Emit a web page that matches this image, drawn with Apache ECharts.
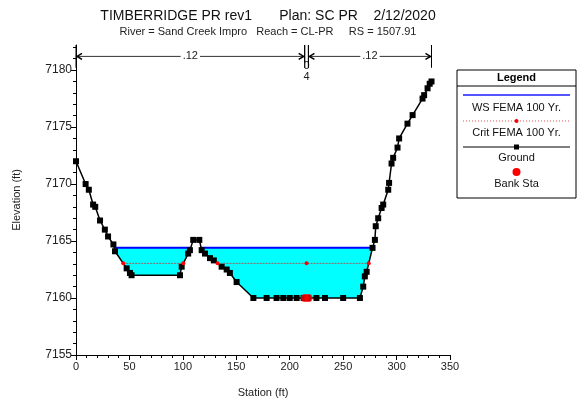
<!DOCTYPE html>
<html>
<head>
<meta charset="utf-8">
<script src="https://cdn.jsdelivr.net/npm/echarts@6/dist/echarts.min.js"></script>
<style>
html, body { margin: 0; padding: 0; background: #fff; }
#chart { width: 581px; height: 404px; }
</style>
</head>
<body>
<div id="chart"></div>
<script>
// ground profile
var station = [0, 9, 12, 16, 18, 22.5, 27, 30, 35, 36.5, 47.4, 50.5, 52, 97.3, 98.9, 105, 106.6, 109.7, 115.4, 117.6,
  120.7, 125.4, 129, 136.3, 141, 144, 150.3, 166, 178.4, 187.7, 194, 200, 206.5, 213, 217, 225, 233, 250, 265.7,
  268.8, 270.3, 272, 277.5, 279.7, 280.5, 282.8, 286, 287.5, 292.2, 293, 295.3, 296.8, 300.9, 302.4, 310.2, 315,
  324.3, 325.8, 329, 331, 332.7];
var elevation = [7172, 7170, 7169.5, 7168.2, 7168, 7166.8, 7166, 7165.4, 7164.7, 7164.1, 7162.6, 7162.2, 7162, 7162, 7162.75, 7163.9, 7164.2, 7165.1, 7165.1, 7164.2,
  7163.9, 7163.5, 7163.3, 7162.75, 7162.5, 7162.2, 7161.4, 7160, 7160, 7160, 7160, 7160, 7160, 7160, 7160, 7160, 7160, 7160, 7160,
  7161, 7161.9, 7162.3, 7164.4, 7165.1, 7166.3, 7167.0, 7167.9, 7168.2, 7169.5, 7170.1, 7171.8, 7172.3, 7173.2, 7174.0, 7175.3, 7176.05,
  7177.5, 7177.8, 7178.4, 7178.8, 7179.0];
var wsElev = 7164.4;       // WS FEMA 100 Yr.
var critElev = 7163.04;    // Crit FEMA 100 Yr.
var bankSta = [214, 217.5];
var nValues = ['.12', '.04', '.12'];
var xTicks = [0, 50, 100, 150, 200, 250, 300, 350];
var yTicks = [7155, 7160, 7165, 7170, 7175, 7180];

var ground = station.map(function(s, i) { return [s, elevation[i]]; });

// split the ground under a water level into wetted pieces
function wetPieces(level) {
  var pieces = [], cur = null;
  for (var i = 0; i < ground.length - 1; i++) {
    var a = ground[i], b = ground[i + 1];
    var wa = a[1] < level, wb = b[1] < level;
    if (wa && cur) cur.push(a);
    if (wa != wb) {
      var t = (level - a[1]) / (b[1] - a[1]);
      var p = [a[0] + t * (b[0] - a[0]), level];
      if (!wa) { cur = [p]; }
      else { cur.push(p); pieces.push(cur); cur = null; }
    }
  }
  return pieces;
}

var wsPieces = wetPieces(wsElev);
var critPieces = wetPieces(critElev);

var critData = [];
critPieces.forEach(function(pc, k) {
  if (k > 0) critData.push([pc[0][0], '-']);
  critData.push([pc[0][0], critElev]);
  var mid = (bankSta[0] + bankSta[1]) / 2;
  if (mid > pc[0][0] && mid < pc[pc.length - 1][0]) critData.push([mid, critElev]);
  critData.push([pc[pc.length - 1][0], critElev]);
});

var nEdges = [ground[0][0], bankSta[0], bankSta[1], ground[ground.length - 1][0]];

var chart = echarts.init(document.getElementById('chart'));

var option = {
  animation: false,
  backgroundColor: '#fff',
  title: {
    text: 'TIMBERRIDGE PR rev1       Plan: SC PR    2/12/2020',
    subtext: 'River = Sand Creek Impro   Reach = CL-PR     RS = 1507.91',
    left: 263, top: 4, textAlign: 'center', itemGap: 3,
    textStyle: { fontFamily: 'Liberation Sans', fontSize: 14, fontWeight: 'normal', color: '#111' },
    subtextStyle: { fontFamily: 'Liberation Sans', fontSize: 11, color: '#222' }
  },
  grid: { left: 76, right: 131, top: 45, bottom: 49 },
  xAxis: {
    type: 'value', min: 0, max: 350, interval: 50,
    name: 'Station (ft)', nameLocation: 'middle', nameGap: 32,
    nameTextStyle: { fontFamily: 'Liberation Sans', fontSize: 11, color: '#222' },
    axisLine: { lineStyle: { color: '#000' } },
    axisTick: { length: 5, lineStyle: { color: '#000' } },
    minorTick: { show: true, splitNumber: 5, length: 3, lineStyle: { color: '#000' } },
    axisLabel: { fontFamily: 'Liberation Sans', fontSize: 11, color: '#222', margin: 6,
      customValues: xTicks, formatter: function(v) { return String(v); } },
    splitLine: { show: false }
  },
  yAxis: {
    type: 'value', min: 7155, max: 7182.2, interval: 5,
    name: 'Elevation (ft)', nameLocation: 'middle', nameGap: 54,
    nameTextStyle: { fontFamily: 'Liberation Sans', fontSize: 11, color: '#222' },
    axisLine: { show: true, lineStyle: { color: '#000' } },
    axisTick: { show: true, length: 5, lineStyle: { color: '#000' }, customValues: yTicks },
    minorTick: { show: true, splitNumber: 5, length: 3, lineStyle: { color: '#000' } },
    axisLabel: { fontFamily: 'Liberation Sans', fontSize: 12, color: '#222', margin: 4,
      customValues: yTicks, formatter: function(v) { return String(v); } },
    splitLine: { show: false }
  },
  series: [
    {
      name: 'WS FEMA 100 Yr.',
      type: 'custom',
      z: 1,
      data: wsPieces.map(function(pc) { return [pc[0][0], wsElev]; }),
      renderItem: function(params, api) {
        var pts = wsPieces[params.dataIndex].map(function(p) { return api.coord(p); });
        var first = pts[0], last = pts[pts.length - 1];
        return {
          type: 'group',
          children: [
            { type: 'polygon', shape: { points: pts }, style: { fill: '#00ffff' } },
            { type: 'line', shape: { x1: first[0], y1: first[1], x2: last[0], y2: last[1] },
              style: { stroke: '#0000ff', lineWidth: 2 } }
          ]
        };
      }
    },
    {
      name: 'Ground',
      type: 'line',
      z: 3,
      data: ground,
      symbol: 'rect', symbolSize: 6,
      itemStyle: { color: '#000' },
      lineStyle: { color: '#000', width: 1.5 }
    },
    {
      name: 'Crit FEMA 100 Yr.',
      type: 'line',
      z: 4,
      data: critData,
      connectNulls: false,
      symbol: 'circle', symbolSize: 4,
      itemStyle: { color: '#ff0000' },
      lineStyle: { color: '#a06060', width: 1, type: [2, 1] }
    },
    {
      name: 'Bank Sta',
      type: 'scatter',
      z: 5,
      data: bankSta.map(function(s) { return [s, 7160]; }),
      symbolSize: 8,
      itemStyle: { color: '#ff0000' }
    },
    {
      // Manning's n brackets above the section
      name: 'n',
      type: 'custom',
      z: 5,
      clip: false,
      data: nValues.map(function(v, i) { return [nEdges[i], nEdges[i + 1]]; }),
      renderItem: function(params, api) {
        var i = params.dataIndex;
        var a = api.coord([nEdges[i], 7181.2]);
        var b = api.coord([nEdges[i + 1], 7181.2]);
        var top = api.coord([0, 7182.2])[1], bot = api.coord([0, 7180.2])[1];
        var st = { stroke: '#000', lineWidth: 1 };
        var kids = [
          { type: 'line', shape: { x1: a[0], y1: top, x2: a[0], y2: bot }, style: st },
          { type: 'line', shape: { x1: b[0], y1: top, x2: b[0], y2: bot }, style: st }
        ];
        if (b[0] - a[0] > 30) {
          kids.push({ type: 'line', shape: { x1: a[0] + 1, y1: a[1], x2: b[0] - 1, y2: b[1] }, style: { stroke: '#333', lineWidth: 1 } });
          kids.push({ type: 'polyline', shape: { points: [[a[0] + 6, a[1] - 3], [a[0] + 1, a[1]], [a[0] + 6, a[1] + 3]] }, style: { stroke: '#000', lineWidth: 1.5, fill: null } });
          kids.push({ type: 'polyline', shape: { points: [[b[0] - 6, b[1] - 3], [b[0] - 1, b[1]], [b[0] - 6, b[1] + 3]] }, style: { stroke: '#000', lineWidth: 1.5, fill: null } });
          kids.push({ type: 'text', x: (a[0] + b[0]) / 2, y: a[1],
            style: { text: nValues[i], fontFamily: 'Liberation Sans', fontSize: 11, fill: '#222',
              align: 'center', verticalAlign: 'middle', backgroundColor: '#fff', padding: [0, 2] } });
        } else {
          kids.push({ type: 'text', x: (a[0] + b[0]) / 2, y: a[1] + 4,
            style: { text: nValues[i].replace('.', '').split('').join('\n'), fontFamily: 'Liberation Sans',
              fontSize: 11, lineHeight: 11, fill: '#222', align: 'center', verticalAlign: 'top' } });
        }
        return { type: 'group', children: kids };
      }
    }
  ],
  graphic: [
    { type: 'rect', shape: { x: 457, y: 70, width: 119, height: 128 }, style: { fill: '#fff', stroke: '#000', lineWidth: 1 } },
    { type: 'line', shape: { x1: 457, y1: 86, x2: 576, y2: 86 }, style: { stroke: '#000', lineWidth: 1 } },
    { type: 'text', x: 516.5, y: 78, style: { text: 'Legend', fontFamily: 'Liberation Sans', fontSize: 11, fontWeight: 'bold', fill: '#000', align: 'center', verticalAlign: 'middle' } },
    { type: 'line', shape: { x1: 463, y1: 95, x2: 570, y2: 95 }, style: { stroke: '#5555ff', lineWidth: 2 } },
    { type: 'text', x: 516.5, y: 108, style: { text: 'WS FEMA 100 Yr.', fontFamily: 'Liberation Sans', fontSize: 11, fill: '#111', align: 'center', verticalAlign: 'middle' } },
    { type: 'line', shape: { x1: 463, y1: 121, x2: 570, y2: 121 }, style: { stroke: '#e05050', lineWidth: 1, lineDash: [1, 2] } },
    { type: 'circle', shape: { cx: 516.5, cy: 121, r: 2 }, style: { fill: '#ff0000' } },
    { type: 'text', x: 516.5, y: 133, style: { text: 'Crit FEMA 100 Yr.', fontFamily: 'Liberation Sans', fontSize: 11, fill: '#111', align: 'center', verticalAlign: 'middle' } },
    { type: 'line', shape: { x1: 463, y1: 147, x2: 570, y2: 147 }, style: { stroke: '#000', lineWidth: 1 } },
    { type: 'rect', shape: { x: 514, y: 144.5, width: 5, height: 5 }, style: { fill: '#000' } },
    { type: 'text', x: 516.5, y: 158, style: { text: 'Ground', fontFamily: 'Liberation Sans', fontSize: 11, fill: '#111', align: 'center', verticalAlign: 'middle' } },
    { type: 'circle', shape: { cx: 516.5, cy: 172, r: 4 }, style: { fill: '#ff0000' } },
    { type: 'text', x: 516.5, y: 184, style: { text: 'Bank Sta', fontFamily: 'Liberation Sans', fontSize: 11, fill: '#111', align: 'center', verticalAlign: 'middle' } }
  ]
};

chart.setOption(option);
</script>
</body>
</html>
